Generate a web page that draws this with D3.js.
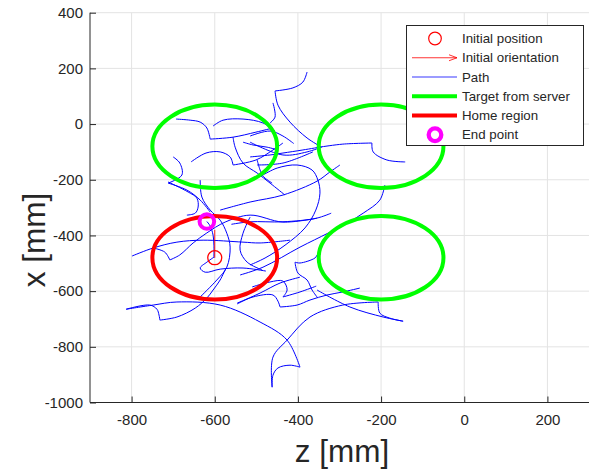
<!DOCTYPE html>
<html>
<head>
<meta charset="utf-8">
<script src="https://cdn.jsdelivr.net/npm/d3@7"></script>
<style>
  html, body { margin: 0; padding: 0; background: #fff; }
  svg { display: block; font-family: "Liberation Sans", Arial, Helvetica, sans-serif; }
</style>
</head>
<body>
<svg id="chart" width="589" height="473"></svg>
<script>
// ---------------- data ----------------
const zDomain = [-900, 300];
const xDomain = [-1000, 400];
const zTicks = [-800, -600, -400, -200, 0, 200];
const xTicks = [-1000, -800, -600, -400, -200, 0, 200, 400];
const targetCenters = [[-600, -80], [-200, -80], [-200, -480]];
const homeCenter = [-600, -480];
const regionRadius = 150;
const initialPosition = [-600, -480];
const initialOrientation = [-600, -380];
const endPoint = [-619, -350];
const legendLabels = ["Initial position", "Initial orientation", "Path", "Target from server", "Home region", "End point"];

// path pieces (z, x) in mm, split at cusps
const pathSegments = [
  [[-813,-665],[-748,-650],[-691,-639],[-587,-650],[-491,-711],[-426,-776],[-395,-873]],
  [[-395,-873],[-419,-866],[-448,-876],[-460,-902],[-462,-945]],
  [[-462,-945],[-460,-837],[-426,-776],[-371,-693],[-292,-650],[-207,-639]],
  [[-207,-639],[-203,-679],[-179,-697],[-147,-708]],
  [[-813,-665],[-756,-650],[-739,-665],[-734,-686],[-732,-704]],
  [[-732,-704],[-691,-693],[-647,-661],[-619,-625],[-604,-596],[-587,-560],[-573,-517]],
  [[-546,-646],[-508,-621],[-460,-614],[-448,-636],[-443,-657]],
  [[-443,-657],[-402,-650],[-371,-632],[-330,-614],[-292,-603],[-251,-589]],
  [[-354,-596],[-275,-657],[-195,-693],[-147,-708]],
  [[-693,18],[-659,14],[-635,7],[-619,-14],[-611,-54]],
  [[-611,-54],[-556,-47],[-501,-29],[-460,-14]],
  [[-604,-7],[-580,14],[-532,18],[-484,4],[-455,-25]],
  [[-657,-136],[-621,-104],[-587,-100],[-563,-118],[-556,-147]],
  [[-556,-147],[-501,-129],[-460,-93],[-436,-68]],
  [[-700,-118],[-684,-140],[-679,-183],[-712,-212]],
  [[-712,-212],[-667,-237],[-635,-273],[-611,-316]],
  [[-556,-47],[-551,-83],[-532,-140],[-498,-176],[-467,-212],[-431,-255]],
  [[-460,76],[-455,25],[-467,4]],
  [[-532,-65],[-508,-75],[-474,-83],[-448,-93]],
  [[-498,-129],[-491,-165],[-484,-187],[-462,-212]],
  [[-378,187],[-388,151],[-412,130],[-455,119]],
  [[-455,119],[-448,68],[-419,7],[-378,-50],[-344,-82]],
  [[-344,-82],[-292,-72],[-222,-68]],
  [[-222,-68],[-219,-100],[-186,-129],[-142,-136]],
  [[-344,-82],[-388,-93],[-436,-104],[-467,-111],[-515,-118]],
  [[-515,-65],[-436,-111],[-378,-100],[-342,-82]],
  [[-498,-147],[-436,-140],[-364,-100]],
  [[-515,-43],[-467,-25],[-436,-43],[-410,-70]],
  [[-484,-183],[-450,-158],[-402,-147],[-366,-165],[-352,-201],[-347,-248],[-357,-309],[-383,-373],[-431,-435],[-479,-481],[-515,-506]],
  [[-299,-147],[-323,-172],[-354,-205],[-436,-255],[-515,-280],[-587,-309]],
  [[-191,-219],[-203,-273],[-243,-320],[-282,-356],[-328,-392],[-395,-442],[-484,-514],[-539,-542]],
  [[-560,-360],[-515,-351],[-436,-351],[-355,-338],[-320,-320]],
  [[-799,-474],[-748,-445],[-691,-424],[-628,-417],[-532,-424],[-491,-427],[-419,-417]],
  [[-748,-445],[-720,-460],[-708,-488]],
  [[-708,-488],[-684,-470],[-652,-427],[-619,-391],[-575,-352],[-515,-327],[-436,-352],[-354,-338]],
  [[-602,-478],[-619,-496],[-635,-517],[-623,-532],[-587,-521],[-532,-517],[-477,-528]],
  [[-635,-201],[-631,-262],[-611,-309],[-587,-345],[-571,-392],[-563,-442],[-571,-514],[-595,-560],[-635,-621]],
  [[-712,-208],[-664,-244],[-643,-266],[-640,-298],[-647,-320],[-667,-327]],
  [[-515,-334],[-532,-392],[-539,-453],[-522,-496],[-486,-524]],
  [[-546,-643],[-491,-607],[-443,-571],[-395,-550]],
  [[-510,-585],[-467,-567],[-436,-564],[-426,-596],[-436,-621]],
  [[-436,-621],[-395,-603],[-356,-582]],
  [[-407,-496],[-395,-499],[-359,-481],[-354,-470]],
  [[-407,-496],[-400,-535],[-378,-560],[-366,-596],[-352,-625]],
  [[-602,-481],[-602,-435],[-604,-399],[-611,-366],[-619,-350]]
];

// ---------------- chart ----------------
const svg = d3.select("#chart");
const pL = 90, pR = 589, pT = 12.7, pB = 402.5;
const zS = d3.scaleLinear().domain(zDomain).range([pL, pR]);
const xS = d3.scaleLinear().domain(xDomain).range([pB, pT]);
const axisCol = "#262626";
const fmt = d => String(d);

// grid
const grid = svg.append("g");
grid.selectAll(".gv").data(zTicks).join("line")
  .attr("x1", d => zS(d)).attr("x2", d => zS(d))
  .attr("y1", pT).attr("y2", pB)
  .attr("stroke", "#e3e3e3").attr("stroke-width", 1);
grid.selectAll(".gh").data(xTicks).join("line")
  .attr("x1", pL).attr("x2", pR)
  .attr("y1", d => xS(d)).attr("y2", d => xS(d))
  .attr("stroke", "#e3e3e3").attr("stroke-width", 1);

// axes
const xAxis = svg.append("g").attr("transform", `translate(0,${pB})`)
  .call(d3.axisBottom(zS).tickValues(zTicks).tickFormat(fmt).tickSize(-6).tickPadding(12).tickSizeOuter(0));
const yAxis = svg.append("g").attr("transform", `translate(${pL},0)`)
  .call(d3.axisLeft(xS).tickValues(xTicks).tickFormat(fmt).tickSize(-6).tickPadding(7).tickSizeOuter(0));
[xAxis, yAxis].forEach(a => {
  a.select(".domain").attr("stroke", axisCol).attr("stroke-width", 1);
  a.selectAll(".tick line").attr("stroke", axisCol);
  a.selectAll(".tick text").attr("fill", axisCol).style("font-size", "15px")
    .style("font-family", "'Liberation Sans', Arial, sans-serif");
});
yAxis.select(".domain").attr("d", `M0,${pT}V${pB}`);
xAxis.select(".domain").attr("d", `M${pL},0H${pR}`);

// axis labels
svg.append("text").attr("x", 342).attr("y", 462)
  .attr("text-anchor", "middle").attr("fill", axisCol)
  .style("font-size", "31.5px").text("z [mm]");
svg.append("text")
  .attr("transform", `translate(45,240) rotate(-90)`)
  .attr("text-anchor", "middle").attr("fill", axisCol)
  .style("font-size", "31.5px").text("x [mm]");

// plot content
const plot = svg.append("g");
const line = d3.line().x(d => zS(d[0])).y(d => xS(d[1])).curve(d3.curveCatmullRom.alpha(0.5));

plot.selectAll(".seg").data(pathSegments).join("path")
  .attr("d", line).attr("fill", "none")
  .attr("stroke", "#0000ff").attr("stroke-width", 1);

const ell = (c) => ({cx: zS(c[0]), cy: xS(c[1]),
  rx: zS(c[0] + regionRadius) - zS(c[0]), ry: xS(c[1]) - xS(c[1] + regionRadius)});

plot.selectAll(".target").data(targetCenters).join("ellipse")
  .each(function(c){ const e = ell(c); d3.select(this).attr("cx", e.cx).attr("cy", e.cy).attr("rx", e.rx).attr("ry", e.ry); })
  .attr("fill", "none").attr("stroke", "#00ff00").attr("stroke-width", 4);

plot.selectAll(".home").data([homeCenter]).join("ellipse")
  .each(function(c){ const e = ell(c); d3.select(this).attr("cx", e.cx).attr("cy", e.cy).attr("rx", e.rx).attr("ry", e.ry); })
  .attr("fill", "none").attr("stroke", "#ff0000").attr("stroke-width", 4);

// initial orientation arrow
plot.append("line")
  .attr("x1", zS(initialPosition[0])).attr("y1", xS(initialPosition[1]))
  .attr("x2", zS(initialOrientation[0])).attr("y2", xS(initialOrientation[1]))
  .attr("stroke", "#ff0000").attr("stroke-width", 0.9);

plot.append("circle")
  .attr("cx", zS(initialPosition[0])).attr("cy", xS(initialPosition[1])).attr("r", 7)
  .attr("fill", "none").attr("stroke", "#ff0000").attr("stroke-width", 1.3);

plot.append("circle")
  .attr("cx", zS(endPoint[0])).attr("cy", xS(endPoint[1])).attr("r", 7.3)
  .attr("fill", "none").attr("stroke", "#ff00ff").attr("stroke-width", 4);

// legend
const lg = svg.append("g");
lg.append("rect").attr("x", 406.5).attr("y", 25.5).attr("width", 177).attr("height", 120)
  .attr("fill", "#fff").attr("stroke", axisCol).attr("stroke-width", 1);
const rowY = i => 38.5 + i * 19.25;
const sx1 = 412, sx2 = 457, smid = 435;
lg.selectAll(".lt").data(legendLabels).join("text")
  .attr("x", 462).attr("y", (d, i) => rowY(i)).attr("dy", "0.35em")
  .attr("fill", axisCol).style("font-size", "13.3px").text(d => d);
lg.append("circle").attr("cx", smid).attr("cy", rowY(0)).attr("r", 6.3)
  .attr("fill", "none").attr("stroke", "#ff0000").attr("stroke-width", 1.2);
lg.append("line").attr("x1", sx1).attr("x2", sx2).attr("y1", rowY(1)).attr("y2", rowY(1))
  .attr("stroke", "#ff0000").attr("stroke-width", 0.8);
lg.append("path").attr("d", `M${sx2 - 8},${rowY(1) - 3}L${sx2},${rowY(1)}L${sx2 - 8},${rowY(1) + 3}`)
  .attr("fill", "none").attr("stroke", "#ff0000").attr("stroke-width", 0.8);
lg.append("line").attr("x1", sx1).attr("x2", sx2).attr("y1", rowY(2)).attr("y2", rowY(2))
  .attr("stroke", "#7a7aff").attr("stroke-width", 1.5);
lg.append("line").attr("x1", sx1).attr("x2", sx2).attr("y1", rowY(3)).attr("y2", rowY(3))
  .attr("stroke", "#00ff00").attr("stroke-width", 4);
lg.append("line").attr("x1", sx1).attr("x2", sx2).attr("y1", rowY(4)).attr("y2", rowY(4))
  .attr("stroke", "#ff0000").attr("stroke-width", 4);
lg.append("circle").attr("cx", smid).attr("cy", rowY(5)).attr("r", 6.3)
  .attr("fill", "none").attr("stroke", "#ff00ff").attr("stroke-width", 4.3);
</script>
</body>
</html>
